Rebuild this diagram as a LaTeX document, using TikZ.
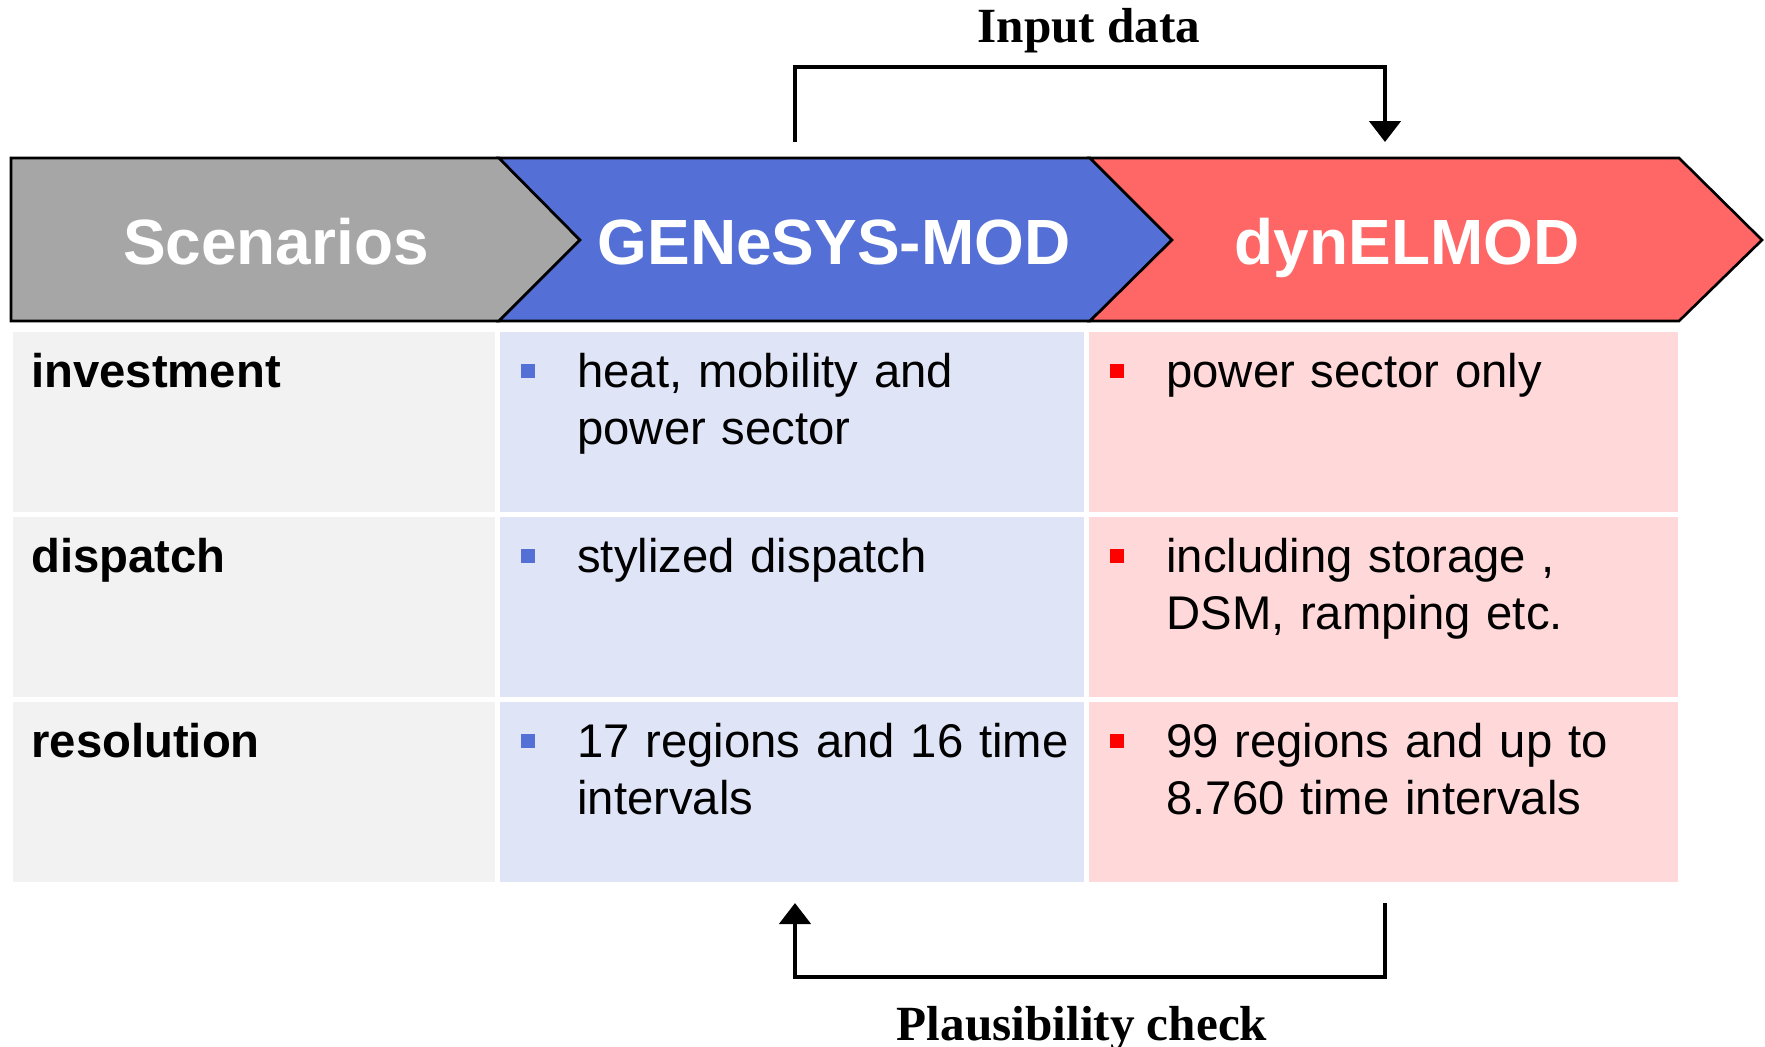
\documentclass[tikz,border=0pt]{standalone}
\usepackage{fontspec}
\setmainfont{Liberation Sans}
\newfontfamily\notefont{Liberation Serif}
\usetikzlibrary{arrows.meta, positioning}

\definecolor{scengray}{HTML}{A6A6A6}
\definecolor{genblue}{HTML}{5470D6}
\definecolor{dynred}{HTML}{FF6666}
\definecolor{labfill}{HTML}{F2F2F2}
\definecolor{genfill}{HTML}{E0E4F7}
\definecolor{dynfill}{HTML}{FFD9DA}
\definecolor{dynbullet}{HTML}{FF0000}

\begin{document}
\begin{tikzpicture}[
    x=0.02cm, y=-0.02cm,
    chevron/.style={draw=black, line width=1.5pt, line join=miter},
    head/.style={
      text=white,
      font=\fontsize{36.4pt}{43pt}\selectfont\bfseries,
      inner sep=0pt,
      anchor=base
    },
    cell/.style={anchor=north west, minimum height=3.6cm, inner sep=0pt},
    celltext/.style={
      anchor=base west,
      align=left,
      text width=11cm,
      inner sep=0pt,
      font=\fontsize{26.9pt}{32.8pt}\selectfont
    },
    rowname/.style={celltext, font=\fontsize{26.9pt}{32.8pt}\selectfont\bfseries},
    bullet/.style={minimum size=0.27cm, inner sep=0pt, anchor=west},
    flow/.style={line width=2.7pt, -{Triangle[width=0.62cm, length=0.42cm]}},
    note/.style={font=\fontsize{28pt}{33pt}\selectfont\notefont\bfseries, inner sep=0pt, anchor=base}
  ]
    \useasboundingbox (0,0) rectangle (1765,1046);

    % chevrons
    \draw[chevron, fill=scengray] (11,158) -- (499,158) -- (580,240) -- (499,321) -- (11,321) -- cycle;
    \draw[chevron, fill=genblue] (499,158) -- (1090,158) -- (1172,240) -- (1090,321) -- (499,321) -- (580,240) -- cycle;
    \draw[chevron, fill=dynred] (1090,158) -- (1679,158) -- (1762,240) -- (1679,321) -- (1090,321) -- (1172,240) -- cycle;

    \node[head] (scen) at (276,264) {Scenarios};
    \node[head] (gen) at (834,264) {GENeSYS-MOD};
    \node[head] (dyn) at (1407,264) {dynELMOD};

    % table cells
    \node[cell, fill=labfill, minimum width=9.64cm] (inv-lab) at (13,332) {};
    \node[cell, fill=genfill, minimum width=11.68cm] (inv-gen) at (500,332) {};
    \node[cell, fill=dynfill, minimum width=11.78cm] (inv-dyn) at (1089,332) {};
    \node[cell, fill=labfill, minimum width=9.64cm] (dis-lab) at (13,517) {};
    \node[cell, fill=genfill, minimum width=11.68cm] (dis-gen) at (500,517) {};
    \node[cell, fill=dynfill, minimum width=11.78cm] (dis-dyn) at (1089,517) {};
    \node[cell, fill=labfill, minimum width=9.64cm] (res-lab) at (13,702) {};
    \node[cell, fill=genfill, minimum width=11.68cm] (res-gen) at (500,702) {};
    \node[cell, fill=dynfill, minimum width=11.78cm] (res-dyn) at (1089,702) {};

    % row names
    \node[rowname] (inv) at ([shift={(18,55)}]inv-lab.north west) {investment};
    \node[rowname] (dis) at ([shift={(18,55)}]dis-lab.north west) {dispatch};
    \node[rowname] (res) at ([shift={(18,55)}]res-lab.north west) {resolution};

    % GENeSYS-MOD column
    \node[bullet, fill=genblue] at ([shift={(21,39)}]inv-gen.north west) {};
    \node[celltext] (inv-g) at ([shift={(77,55)}]inv-gen.north west) {heat, mobility and\\power sector};
    \node[bullet, fill=genblue] at ([shift={(21,39)}]dis-gen.north west) {};
    \node[celltext] (dis-g) at ([shift={(77,55)}]dis-gen.north west) {stylized dispatch};
    \node[bullet, fill=genblue] at ([shift={(21,39)}]res-gen.north west) {};
    \node[celltext] (res-g) at ([shift={(77,55)}]res-gen.north west) {17 regions and 16 time\\intervals};

    % dynELMOD column
    \node[bullet, fill=dynbullet] at ([shift={(21,39)}]inv-dyn.north west) {};
    \node[celltext] (inv-d) at ([shift={(77,55)}]inv-dyn.north west) {power sector only};
    \node[bullet, fill=dynbullet] at ([shift={(21,39)}]dis-dyn.north west) {};
    \node[celltext] (dis-d) at ([shift={(77,55)}]dis-dyn.north west) {including storage ,\\DSM, ramping etc.};
    \node[bullet, fill=dynbullet] at ([shift={(21,39)}]res-dyn.north west) {};
    \node[celltext] (res-d) at ([shift={(77,55)}]res-dyn.north west) {99 regions and up to\\8.760 time intervals};

    % feedback loop
    \node[note] (input) at (1089,42) {Input data};
    \node[note] (check) at (1082,1040) {Plausibility check};

    \coordinate (in-from) at (795,142);
    \coordinate (in-to) at (1385,142);
    \coordinate (chk-from) at (1385,903);
    \coordinate (chk-to) at (795,903);

    \draw[flow] (in-from) -- ++(0,-75) -| (in-to);
    \draw[flow] (chk-from) -- ++(0,74) -| (chk-to);
  \end{tikzpicture}
\end{document}
